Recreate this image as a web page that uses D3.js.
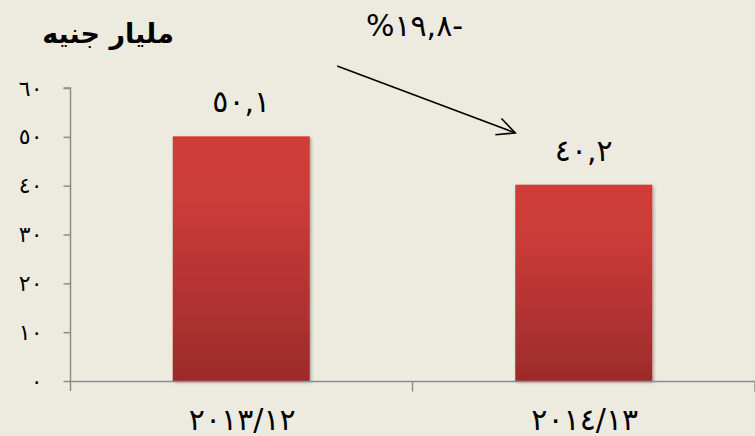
<!DOCTYPE html>
<html><head><meta charset="utf-8">
<script src="https://cdn.jsdelivr.net/npm/d3@7"></script>
<style>
html,body{margin:0;padding:0;background:#EDEBE0;}
svg{display:block;}
text{font-family:"DejaVu Sans",sans-serif;fill:#000;}
</style></head>
<body>
<script>
const categories = ["٢٠١٣/١٢", "٢٠١٤/١٣"];
const values = [50.1, 40.2];
const valueLabels = ["٥٠,١", "٤٠,٢"];
const tickValues = [0, 10, 20, 30, 40, 50, 60];
const tickLabels = ["٠", "١٠", "٢٠", "٣٠", "٤٠", "٥٠", "٦٠"];
const unitTitle = "مليار جنيه";
const changeLabel = "%١٩,٨-";

(function () {
const W = 755, H = 436;
const svg = d3.select("body").append("svg").attr("width", W).attr("height", H);
svg.append("rect").attr("width", W).attr("height", H).attr("fill", "#EDEBE0");

const defs = svg.append("defs");
const grad = defs.append("linearGradient").attr("id", "barGrad")
  .attr("x1", 0).attr("y1", 0).attr("x2", 0).attr("y2", 1);
grad.append("stop").attr("offset", "0%").attr("stop-color", "#D03D39");
grad.append("stop").attr("offset", "25%").attr("stop-color", "#CB3C39");
grad.append("stop").attr("offset", "100%").attr("stop-color", "#9C2B2B");
const f = defs.append("filter").attr("id", "shadow").attr("x", "-10%").attr("y", "-10%").attr("width", "130%").attr("height", "130%");
f.append("feDropShadow").attr("dx", 1.5).attr("dy", 1.5).attr("stdDeviation", 1.5).attr("flood-color", "#000").attr("flood-opacity", 0.3);

const mLeft = 70, mRight = 755, mTop = 88, mBottom = 381;
const x = d3.scaleBand().domain(categories).range([mLeft, mRight]).padding(0);
const y = d3.scaleLinear().domain([0, 60]).range([mBottom, mTop]);
const barW = x.bandwidth() * 0.4;

// bars
svg.append("g").selectAll("rect").data(values).join("rect")
  .attr("x", (d, i) => x(categories[i]) + (x.bandwidth() - barW) / 2)
  .attr("y", d => y(d))
  .attr("width", barW)
  .attr("height", d => y(0) - y(d))
  .attr("fill", "url(#barGrad)")
  .attr("filter", "url(#shadow)");

// y axis
const yAxis = d3.axisLeft(y).tickValues(tickValues)
  .tickFormat((d, i) => tickLabels[i]).tickSize(7).tickPadding(21);
const gy = svg.append("g").attr("transform", `translate(${mLeft + 0.5},0)`).call(yAxis);
gy.select(".domain").attr("stroke", "#8C8C8C").attr("stroke-width", 1.5)
  .attr("d", `M-7,${mTop}H0V${mBottom + 10}`);
gy.selectAll(".tick line").attr("stroke", "#8C8C8C").attr("stroke-width", 1.5);
gy.selectAll(".tick text").attr("font-size", 22).attr("font-family", "'DejaVu Sans',sans-serif");

// x axis
const gx = svg.append("g").attr("transform", `translate(0,${mBottom + 0.5})`);
gx.append("line").attr("x1", mLeft).attr("x2", mRight).attr("stroke", "#8C8C8C").attr("stroke-width", 1.5);
gx.selectAll("line.tk").data(categories).join("line").attr("class", "tk")
  .attr("x1", d => x(d) + x.bandwidth()).attr("x2", d => x(d) + x.bandwidth())
  .attr("y1", 0).attr("y2", 10).attr("stroke", "#8C8C8C").attr("stroke-width", 1.5);
gx.selectAll("text").data(categories).join("text")
  .attr("x", d => x(d) + x.bandwidth() / 2 + 1)
  .attr("y", 48)
  .attr("text-anchor", "middle")
  .attr("font-size", 30)
  .text(d => d);

// value labels
svg.append("g").selectAll("text").data(values).join("text")
  .attr("x", (d, i) => x(categories[i]) + x.bandwidth() / 2)
  .attr("y", d => y(d) - 24)
  .attr("text-anchor", "middle")
  .attr("font-size", 30)
  .text((d, i) => valueLabels[i]);

// title
svg.append("text").attr("x", 108).attr("y", 43).attr("text-anchor", "middle")
  .attr("font-size", 27).attr("font-weight", "bold")
  .attr("direction", "rtl")
  .text(unitTitle);

// change annotation
svg.append("text").attr("x", x(categories[1]) + 2).attr("y", 36).attr("text-anchor", "middle")
  .attr("font-size", 30).attr("letter-spacing", 3)
  .text(changeLabel);

// arrow
const x0 = x(categories[0]) + x.bandwidth() * 0.78, y0 = y(64.5);
const x1 = x(categories[1]) + x.bandwidth() * 0.3, y1 = y(50.8);
svg.append("line").attr("x1", x0).attr("y1", y0).attr("x2", x1).attr("y2", y1)
  .attr("stroke", "#000").attr("stroke-width", 1.6);
const ang = Math.atan2(y1 - y0, x1 - x0);
const hl = 20, ha = 0.45;
const p1 = [x1 - hl * Math.cos(ang - ha), y1 - hl * Math.sin(ang - ha)];
const p2 = [x1 - hl * Math.cos(ang + ha), y1 - hl * Math.sin(ang + ha)];
svg.append("path").attr("d", `M${p1[0]},${p1[1]}L${x1},${y1}L${p2[0]},${p2[1]}`)
  .attr("fill", "none").attr("stroke", "#000").attr("stroke-width", 1.6);
})();
</script>
</body></html>
